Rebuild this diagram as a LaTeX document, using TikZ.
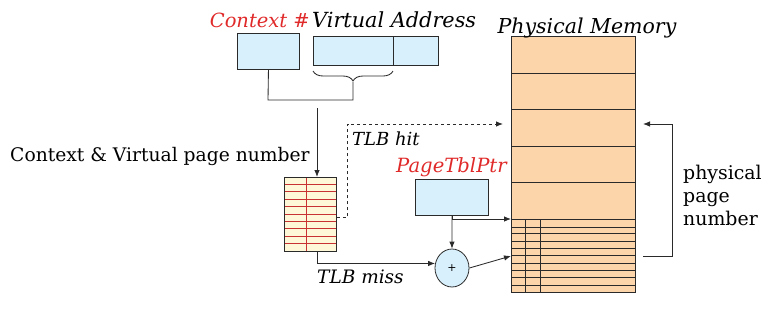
\documentclass[tikz,border=0pt]{standalone}
\usepackage{fontspec}
\setmainfont{DejaVu Serif}
\usetikzlibrary{arrows.meta,decorations.pathreplacing,calc,shapes.geometric}
\definecolor{boxblue}{HTML}{D8F0FC}
\definecolor{peach}{HTML}{FCD5AA}
\definecolor{tlbfill}{HTML}{FFF8D8}
\definecolor{tlbred}{HTML}{C83232}
\definecolor{lblred}{HTML}{E02A2A}
\definecolor{ink}{HTML}{2A2A2A}
\newcommand{\fsz}[1]{\fontsize{#1}{23}\selectfont}
\begin{document}
\begin{tikzpicture}[x=1pt,y=-1pt,
  bluebox/.style={draw=ink,fill=boxblue,line width=0.9pt,inner sep=0pt,anchor=north west},
  conn/.style={draw=ink,line width=0.85pt},
  arr/.style={conn,-{Latex[length=7pt,width=5.5pt]}},
  txt/.style={inner sep=0pt},
  itxt/.style={inner sep=0pt},
  rtxt/.style={itxt,text=lblred}]
\useasboundingbox (0,0) rectangle (776,317);
% virtual address boxes
\node[bluebox,minimum width=62pt,minimum height=36pt] (ctx) at (237,33) {};
\node[bluebox,minimum width=125pt,minimum height=29pt] (va) at (313,36) {};
\draw[conn] (393,36) -- (393,65);
\node[rtxt,anchor=base east,font=\fsz{19.5}\itshape] (ctxlbl) at (310,27) {Context \#};
\node[itxt,anchor=base west,font=\fsz{20.8}\itshape] (valbl) at (312,27) {Virtual Address};
% brace
\draw[conn,decorate,decoration={brace,mirror,amplitude=10pt}] (313,71) -- (393,71);
\coordinate (bracetip) at (353,82);
\draw[conn] (ctx.south) -- (268,100) -| (bracetip);
% TLB
\node[draw=ink,fill=tlbfill,line width=0.8pt,minimum width=52pt,minimum height=74pt,inner sep=0pt,anchor=north west] (tlb) at (284,177) {};
\foreach \k in {1,...,9}{\draw[tlbred,line width=0.7pt] (284,177+7.4*\k) -- (336,177+7.4*\k);}
\draw[tlbred,line width=0.7pt] (306,177) -- (306,251);
\draw[ink,line width=0.8pt] (tlb.north west) rectangle (tlb.south east);
\coordinate (vpn) at (317,108);
\draw[arr] (vpn) -- (vpn |- tlb.north);
\node[txt,anchor=base west,font=\fsz{18.7}] (cvpn) at (10,161) {Context \& Virtual page number};
% physical memory
\node[draw=ink,fill=peach,line width=0.9pt,minimum width=124pt,minimum height=256pt,inner sep=0pt,anchor=north west] (mem) at (511,36) {};
\foreach \yy in {73,109,146,182}{\draw[ink,line width=0.75pt] (511,\yy) -- (635,\yy);}
\draw[ink,line width=1pt] (511,219) -- (635,219);
\foreach \yy in {227,233,241,248,255,263,270,277,285}{\draw[ink,line width=0.75pt] (511,\yy) -- (635,\yy);}
\draw[ink,line width=0.75pt] (525,219) -- (525,292) (540,219) -- (540,292);
\node[itxt,anchor=base,font=\fsz{20.5}\itshape] (pmlbl) at (587,33) {Physical Memory};
% TLB hit
\coordinate (hitend) at (503,124);
\draw[arr,dashed] ($(tlb.east)+(0,3)$) -- ++(11,0) |- (hitend);
\node[itxt,anchor=base west,font=\fsz{18}\itshape] (hitlbl) at (352,145) {TLB hit};
% page table pointer
\node[bluebox,minimum width=73pt,minimum height=36pt] (ptp) at (415,179) {};
\node[rtxt,anchor=base west,font=\fsz{19.6}\itshape] (ptplbl) at (396,172) {PageTblPtr};
\node[draw=ink,fill=boxblue,line width=0.8pt,ellipse,minimum width=34pt,minimum height=38pt,inner sep=0pt,font=\fsz{11}] (plus) at (452,268) {+};
\coordinate (ptbase) at (511,219);
\coordinate (ptentry) at (511,256);
\draw[arr] (ptp.south) |- (ptbase);
\draw[arr] (ptp.south) -- (plus.north);
\draw[arr] ($(tlb.south)+(7,0)$) |- (plus.165);
\node[itxt,anchor=base west,font=\fsz{18.5}\itshape] (misslbl) at (317,283) {TLB miss};
\draw[arr] (plus.east) -- (ptentry);
% physical page number
\coordinate (ppnbot) at (643,256);
\coordinate (ppntop) at (643,124);
\draw[arr] (ppnbot) -- (672,256) |- (ppntop);
\node[txt,anchor=north west,align=left,font=\fsz{18.9}] (ppnlbl) at (683,165) {physical\\page\\number};
\end{tikzpicture}
\end{document}
